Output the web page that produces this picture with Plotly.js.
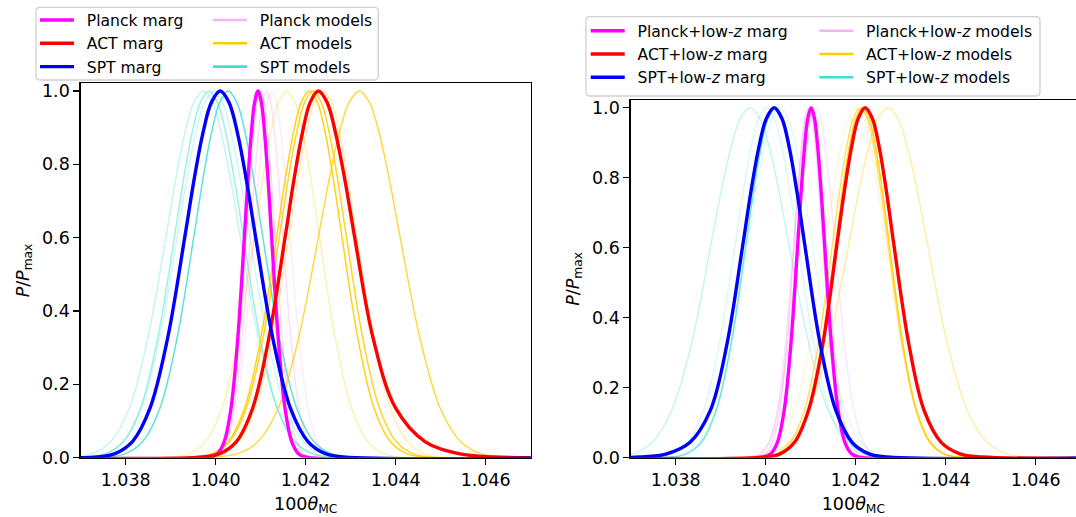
<!DOCTYPE html>
<html><head><meta charset="utf-8">
<script src="https://cdn.plot.ly/plotly-3.0.1.min.js"></script>
<style>html,body{margin:0;padding:0;background:#fff;overflow:hidden}#chart{width:1076px;height:517px}</style>
</head><body><div id="chart"></div>
<script>
// ---------- DATA ----------
// Each curve is digitised as the x positions where P/Pmax crosses the shared levels below
const LEVELS = [0, 0.002, 0.011, 0.044, 0.135, 0.325, 0.607, 0.755, 0.882, 0.969, 1, 0.969, 0.882, 0.755, 0.607, 0.325, 0.135, 0.044, 0.011, 0.002, 0];

// Left panel: marginalised
const planckMargL = [1.036, 1.03989, 1.04004, 1.04019, 1.04034, 1.04049, 1.04064, 1.040715, 1.04079, 1.040865, 1.04094, 1.041015, 1.04109, 1.041165, 1.04124, 1.04139, 1.04154, 1.04169, 1.04184, 1.04199, 1.048];
const actMargL    = [1.036, 1.03972, 1.04009, 1.04046, 1.04082, 1.04118, 1.04155, 1.041735, 1.04192, 1.0421, 1.04228, 1.042475, 1.04267, 1.042875, 1.04308, 1.04350, 1.04400, 1.04465, 1.04540, 1.04620, 1.048];
const sptMargL    = [1.036, 1.03737, 1.03776, 1.03815, 1.03854, 1.03893, 1.03932, 1.039515, 1.03971, 1.039905, 1.04010, 1.040295, 1.04049, 1.040685, 1.04088, 1.04127, 1.04166, 1.04205, 1.04244, 1.04283, 1.048];
// Left panel: models
const planckModelsL = [
  [1.036, 1.03988, 1.04004, 1.04020, 1.04036, 1.04052, 1.04068, 1.04076, 1.04084, 1.04092, 1.04100, 1.04108, 1.04116, 1.04124, 1.04132, 1.04148, 1.04164, 1.04180, 1.04196, 1.04212, 1.048],
  [1.036, 1.03987, 1.04005, 1.04023, 1.04041, 1.04059, 1.04077, 1.04086, 1.04095, 1.04104, 1.04113, 1.04122, 1.04131, 1.04140, 1.04149, 1.04167, 1.04185, 1.04203, 1.04221, 1.04239, 1.048],
  [1.036, 1.03985, 1.04005, 1.04025, 1.04045, 1.04065, 1.04085, 1.04095, 1.04105, 1.04115, 1.04125, 1.04135, 1.04145, 1.04155, 1.04165, 1.04185, 1.04205, 1.04225, 1.04245, 1.04265, 1.048]
];
const actModelsL = [
  [1.036, 1.03906, 1.03942, 1.03978, 1.04014, 1.04050, 1.04086, 1.04104, 1.04122, 1.04140, 1.04158, 1.04176, 1.04194, 1.04212, 1.04230, 1.04266, 1.04302, 1.04338, 1.04374, 1.04410, 1.048],
  [1.036, 1.03956, 1.03992, 1.04028, 1.04064, 1.04100, 1.04136, 1.04154, 1.04172, 1.04190, 1.04208, 1.04226, 1.04244, 1.04262, 1.04280, 1.04316, 1.04352, 1.04388, 1.04424, 1.04460, 1.048],
  [1.036, 1.03957, 1.03994, 1.04031, 1.04068, 1.04105, 1.04142, 1.041605, 1.04179, 1.041975, 1.04216, 1.042345, 1.04253, 1.042715, 1.04290, 1.04327, 1.04364, 1.04401, 1.04438, 1.04475, 1.048],
  [1.036, 1.03976, 1.04013, 1.04051, 1.04088, 1.04126, 1.04163, 1.04182, 1.04201, 1.042195, 1.04238, 1.04257, 1.04276, 1.042945, 1.04313, 1.04351, 1.04388, 1.04426, 1.04463, 1.04501, 1.048],
  [1.036, 1.04004, 1.04049, 1.04094, 1.04139, 1.04184, 1.04229, 1.042515, 1.04274, 1.042965, 1.04319, 1.043415, 1.04364, 1.043865, 1.04409, 1.04454, 1.04499, 1.04544, 1.04589, 1.04634, 1.048]
];
const sptModelsL = [
  [1.036, 1.03685, 1.03726, 1.03767, 1.03808, 1.03849, 1.03890, 1.039105, 1.03931, 1.039515, 1.03972, 1.039925, 1.04013, 1.040335, 1.04054, 1.04095, 1.04136, 1.04177, 1.04218, 1.04259, 1.048],
  [1.036, 1.03719, 1.03757, 1.03795, 1.03833, 1.03871, 1.03909, 1.03928, 1.03947, 1.03966, 1.03985, 1.04004, 1.04023, 1.04042, 1.04061, 1.04099, 1.04137, 1.04175, 1.04213, 1.04251, 1.048],
  [1.036, 1.03715, 1.03755, 1.03795, 1.03835, 1.03875, 1.03915, 1.03935, 1.03955, 1.03975, 1.03995, 1.04015, 1.04035, 1.04055, 1.04075, 1.04115, 1.04155, 1.04195, 1.04235, 1.04275, 1.048],
  [1.036, 1.03762, 1.03800, 1.03838, 1.03876, 1.03914, 1.03952, 1.03971, 1.03990, 1.04009, 1.04028, 1.04047, 1.04066, 1.04085, 1.04104, 1.04142, 1.04180, 1.04218, 1.04256, 1.04294, 1.048]
];

// Right panel (+low-z): marginalised
const planckMargR = [1.036, 1.03996, 1.04011, 1.04026, 1.04041, 1.04056, 1.04071, 1.040785, 1.04086, 1.040935, 1.04101, 1.041085, 1.04116, 1.041235, 1.04131, 1.04146, 1.04161, 1.04176, 1.04191, 1.04206, 1.048];
const actMargR    = [1.036, 1.04000, 1.04032, 1.04064, 1.04095, 1.04127, 1.04158, 1.04174, 1.04190, 1.042055, 1.04221, 1.04237, 1.04253, 1.04269, 1.04285, 1.04318, 1.04352, 1.04390, 1.04432, 1.04480, 1.048];
const sptMargR    = [1.036, 1.03720, 1.03780, 1.03832, 1.03877, 1.03914, 1.03949, 1.039665, 1.03984, 1.040015, 1.04019, 1.04036, 1.04053, 1.04070, 1.04087, 1.04121, 1.04156, 1.04192, 1.04230, 1.04270, 1.048];
// Right panel: models
const planckModelsR = [
  [1.036, 1.03972, 1.03990, 1.04008, 1.04026, 1.04044, 1.04062, 1.04071, 1.04080, 1.04089, 1.04098, 1.04107, 1.04116, 1.04125, 1.04134, 1.04152, 1.04170, 1.04188, 1.04206, 1.04224, 1.048],
  [1.036, 1.03965, 1.03986, 1.04007, 1.04028, 1.04049, 1.04070, 1.040805, 1.04091, 1.041015, 1.04112, 1.041225, 1.04133, 1.041435, 1.04154, 1.04175, 1.04196, 1.04217, 1.04238, 1.04259, 1.048],
  [1.036, 1.03983, 1.03999, 1.04015, 1.04031, 1.04047, 1.04063, 1.04071, 1.04079, 1.04087, 1.04095, 1.04103, 1.04111, 1.04119, 1.04127, 1.04143, 1.04159, 1.04175, 1.04191, 1.04207, 1.048]
];
const actModelsR = [
  [1.036, 1.03964, 1.04008, 1.04052, 1.04096, 1.04140, 1.04184, 1.04206, 1.04228, 1.04250, 1.04272, 1.04294, 1.04316, 1.04338, 1.04360, 1.04404, 1.04448, 1.04492, 1.04536, 1.04580, 1.048],
  [1.036, 1.04005, 1.04035, 1.04065, 1.04095, 1.04125, 1.04155, 1.04170, 1.04185, 1.04200, 1.04215, 1.04230, 1.04245, 1.04260, 1.04275, 1.04305, 1.04335, 1.04365, 1.04395, 1.04425, 1.048],
  [1.036, 1.03993, 1.04024, 1.04055, 1.04086, 1.04117, 1.04148, 1.041635, 1.04179, 1.041945, 1.04210, 1.042255, 1.04241, 1.042565, 1.04272, 1.04303, 1.04334, 1.04365, 1.04396, 1.04427, 1.048],
  [1.036, 1.03962, 1.03996, 1.04030, 1.04064, 1.04098, 1.04132, 1.04149, 1.04166, 1.04183, 1.04200, 1.04217, 1.04234, 1.04251, 1.04268, 1.04302, 1.04336, 1.04370, 1.04404, 1.04438, 1.048]
];
const sptModelsR = [
  [1.036, 1.03661, 1.03704, 1.03748, 1.03791, 1.03835, 1.03878, 1.03900, 1.03922, 1.039435, 1.03965, 1.03987, 1.04009, 1.040305, 1.04052, 1.04096, 1.04139, 1.04183, 1.04226, 1.04270, 1.048],
  [1.036, 1.03791, 1.03824, 1.03857, 1.03890, 1.03923, 1.03956, 1.039725, 1.03989, 1.040055, 1.04022, 1.040385, 1.04055, 1.040715, 1.04088, 1.04121, 1.04154, 1.04187, 1.04220, 1.04253, 1.048],
  [1.036, 1.03757, 1.03792, 1.03827, 1.03862, 1.03897, 1.03932, 1.039495, 1.03967, 1.039845, 1.04002, 1.040195, 1.04037, 1.040545, 1.04072, 1.04107, 1.04142, 1.04177, 1.04212, 1.04247, 1.048],
  [1.036, 1.03780, 1.03816, 1.03852, 1.03888, 1.03924, 1.03960, 1.03978, 1.03996, 1.04014, 1.04032, 1.04050, 1.04068, 1.04086, 1.04104, 1.04140, 1.04176, 1.04212, 1.04248, 1.04284, 1.048]
];

// Labels / ticks
const legendMargL   = ['Planck marg', 'ACT marg', 'SPT marg'];
const legendModelsL = ['Planck models', 'ACT models', 'SPT models'];
const legendMargR   = ['Planck+low-<i>z</i> marg', 'ACT+low-<i>z</i> marg', 'SPT+low-<i>z</i> marg'];
const legendModelsR = ['Planck+low-<i>z</i> models', 'ACT+low-<i>z</i> models', 'SPT+low-<i>z</i> models'];
const xTicks = [1.038, 1.040, 1.042, 1.044, 1.046];
const xTickText = ['1.038', '1.040', '1.042', '1.044', '1.046'];
const yTicks = [0, 0.2, 0.4, 0.6, 0.8, 1.0];
const yTickText = ['0.0', '0.2', '0.4', '0.6', '0.8', '1.0'];
const xTitle = '100<i>θ</i><sub>MC</sub>';
const yTitle = '<i>P</i>/<i>P</i><sub>max</sub>';

// ---------- STYLES ----------
const FONT = 'DejaVu Sans';
const W = 1076, H = 517;
const fx = v => v / W, fy = v => 1 - v / H;
const C = {
  magenta: '#ff00ff', red: '#ff0000', blue: '#0000ff',
  violet: a => `rgba(238,130,238,${a})`,
  gold: a => `rgba(255,204,0,${a})`,
  turq: a => `rgba(64,224,208,${a})`
};
const MARG_W = 3.4, MOD_W = 1.5, SP = '\u2002';

const alphaPlanckL = [0.3, 0.25, 0.15];
const alphaActL = [0.3, 0.9, 0.85, 0.3, 0.75];
const alphaSptL = [0.3, 0.5, 0.25, 0.85];
const alphaPlanckR = [0.25, 0.2, 0.3];
const alphaActR = [0.35, 0.9, 0.6, 0.15];
const alphaSptR = [0.3, 0.75, 0.2, 0.15];

const traces = [];
function curve(xs, color, width, panel, extra) {
  traces.push(Object.assign({
    type: 'scatter', mode: 'lines', x: xs, y: LEVELS,
    xaxis: panel === 1 ? 'x' : 'x2', yaxis: panel === 1 ? 'y' : 'y2',
    line: { color: color, width: width, shape: 'spline', smoothing: 1 },
    showlegend: false, hoverinfo: 'skip'
  }, extra || {}));
}
function legendOnly(name, color, legend) {
  traces.push({ type: 'scatter', mode: 'lines', x: [null], y: [null], name: SP + name,
    line: { color: color, width: 2.6 }, showlegend: true, legend: legend, hoverinfo: 'skip' });
}

// Left panel
sptModelsL.forEach((xs, i) => curve(xs, C.turq(alphaSptL[i]), MOD_W, 1));
planckModelsL.forEach((xs, i) => curve(xs, C.violet(alphaPlanckL[i]), MOD_W, 1));
actModelsL.forEach((xs, i) => curve(xs, C.gold(alphaActL[i]), MOD_W, 1));
legendOnly(legendModelsL[0], C.violet(0.6), 'legend2');
legendOnly(legendModelsL[1], C.gold(1), 'legend2');
legendOnly(legendModelsL[2], C.turq(1), 'legend2');
curve(planckMargL, C.magenta, MARG_W, 1, { showlegend: true, name: SP + legendMargL[0], legend: 'legend' });
curve(actMargL, C.red, MARG_W, 1, { showlegend: true, name: SP + legendMargL[1], legend: 'legend' });
curve(sptMargL, C.blue, MARG_W, 1, { showlegend: true, name: SP + legendMargL[2], legend: 'legend' });

// Right panel
sptModelsR.forEach((xs, i) => curve(xs, C.turq(alphaSptR[i]), MOD_W, 2));
planckModelsR.forEach((xs, i) => curve(xs, C.violet(alphaPlanckR[i]), MOD_W, 2));
actModelsR.forEach((xs, i) => curve(xs, C.gold(alphaActR[i]), MOD_W, 2));
legendOnly(legendModelsR[0], C.violet(0.6), 'legend4');
legendOnly(legendModelsR[1], C.gold(1), 'legend4');
legendOnly(legendModelsR[2], C.turq(1), 'legend4');
curve(planckMargR, C.magenta, MARG_W, 2, { showlegend: true, name: SP + legendMargR[0], legend: 'legend3' });
curve(actMargR, C.red, MARG_W, 2, { showlegend: true, name: SP + legendMargR[1], legend: 'legend3' });
curve(sptMargR, C.blue, MARG_W, 2, { showlegend: true, name: SP + legendMargR[2], legend: 'legend3' });

const tickFont = { family: FONT, size: 17.5, color: '#000' };
const axBase = {
  showline: true, linecolor: '#000', linewidth: 1.4, ticks: 'outside', ticklen: 6, tickwidth: 1.4,
  tickcolor: '#000', showgrid: false, zeroline: false, tickfont: tickFont, fixedrange: true
};
const xBase = Object.assign({}, axBase, { tickmode: 'array', tickvals: xTicks, ticktext: xTickText,
  title: { text: xTitle, font: tickFont, standoff: 8 } });
const yBase = Object.assign({}, axBase, { tickmode: 'array', tickvals: yTicks, ticktext: yTickText,
  title: { text: yTitle, font: tickFont, standoff: 8 } });

function legendBox(x, yTop) {
  return { x: fx(x), y: fy(yTop), xref: 'paper', yref: 'paper', xanchor: 'left', yanchor: 'top',
    orientation: 'v', bgcolor: 'rgba(0,0,0,0)', borderwidth: 0, itemwidth: 34, tracegroupgap: 0,
    font: { family: FONT, size: 15.6, color: '#000' }, itemclick: false, itemdoubleclick: false };
}
function roundRect(x0, y0, x1, y1, r) {
  const X = v => fx(v), Y = v => fy(v);
  return `M${X(x0 + r)},${Y(y0)} L${X(x1 - r)},${Y(y0)} Q${X(x1)},${Y(y0)} ${X(x1)},${Y(y0 + r)} ` +
    `L${X(x1)},${Y(y1 - r)} Q${X(x1)},${Y(y1)} ${X(x1 - r)},${Y(y1)} L${X(x0 + r)},${Y(y1)} ` +
    `Q${X(x0)},${Y(y1)} ${X(x0)},${Y(y1 - r)} L${X(x0)},${Y(y0 + r)} Q${X(x0)},${Y(y0)} ${X(x0 + r)},${Y(y0)} Z`;
}
const boxStyle = { type: 'path', xref: 'paper', yref: 'paper', line: { color: '#d0d0d0', width: 1.3 },
  fillcolor: 'rgba(255,255,255,0.8)', layer: 'below' };

const layout = {
  width: W, height: H, margin: { l: 0, r: 0, t: 0, b: 0 },
  paper_bgcolor: '#fff', plot_bgcolor: '#fff',
  font: { family: FONT, color: '#000' },
  showlegend: true,
  xaxis: Object.assign({}, xBase, { domain: [fx(80.7), fx(530.7)], range: [1.037, 1.047], anchor: 'y', mirror: true }),
  yaxis: Object.assign({}, yBase, { domain: [fy(457.7), fy(83.3)], range: [0, 1.021], anchor: 'x', mirror: true }),
  xaxis2: Object.assign({}, xBase, { domain: [fx(630.7), 1], range: [1.037, 1.037 + (W - 630.7) / 45000], anchor: 'y2', mirror: true }),
  yaxis2: Object.assign({}, yBase, { domain: [fy(457.7), fy(100)], range: [0, 1.022], anchor: 'x2', mirror: false }),
  legend: legendBox(35, 3.4),
  legend2: legendBox(208, 3.4),
  legend3: legendBox(585.7, 14.1),
  legend4: legendBox(814.3, 14.1),
  shapes: [
    Object.assign({ path: roundRect(36, 7.3, 378.3, 80, 4) }, boxStyle),
    Object.assign({ path: roundRect(586, 16.7, 1040, 96, 4) }, boxStyle)
  ]
};

Plotly.newPlot('chart', traces, layout, { staticPlot: true, displayModeBar: false });
</script>
</body></html>
